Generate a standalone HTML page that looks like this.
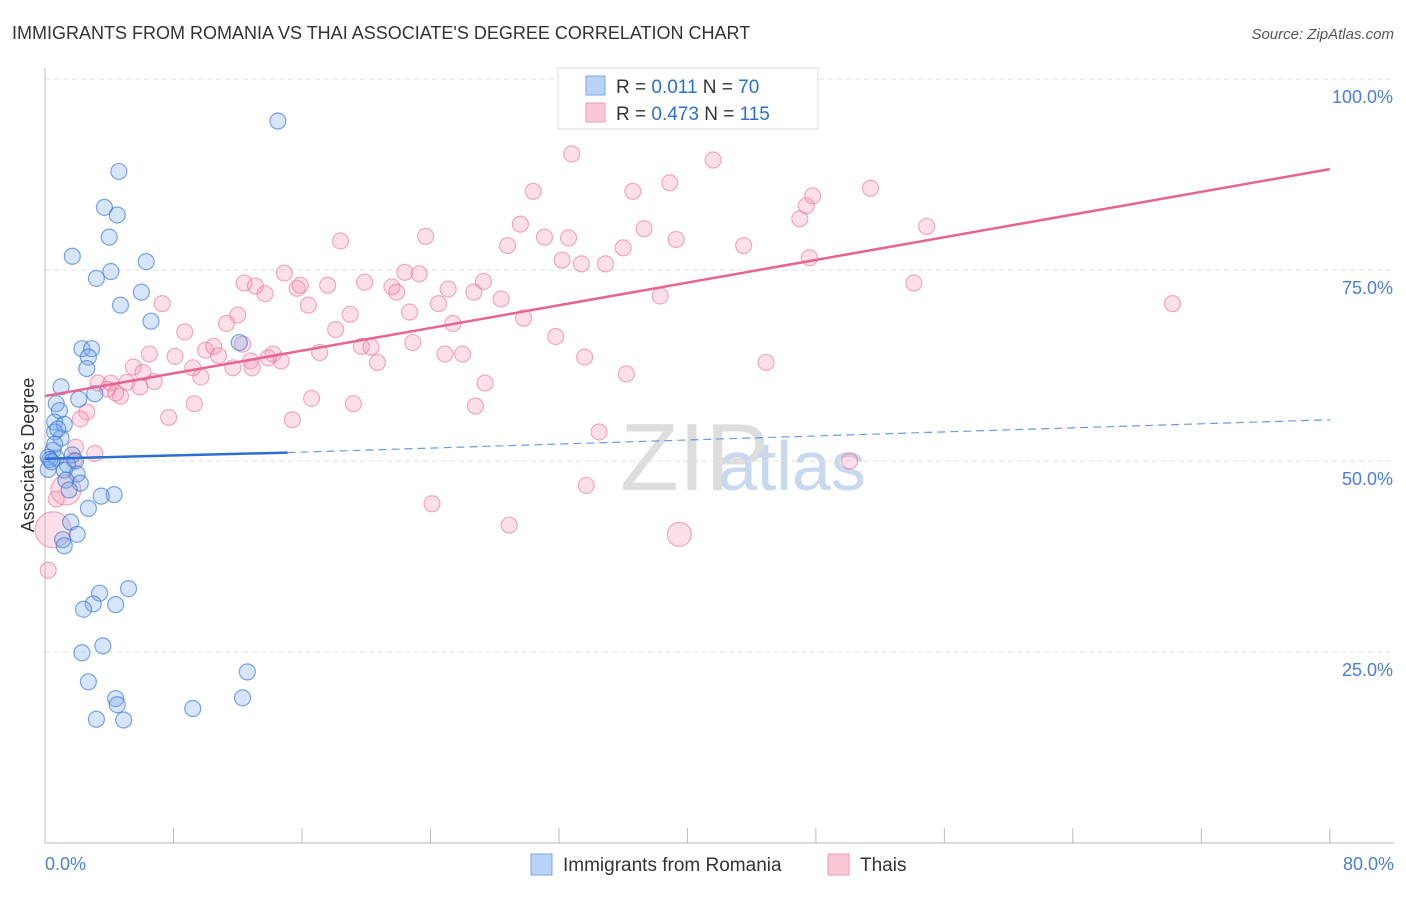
<!DOCTYPE html>
<html><head><meta charset="utf-8"><style>
body{margin:0;background:#fff;font-family:"Liberation Sans",sans-serif;}
svg text{font-family:"Liberation Sans",sans-serif;}
</style></head><body>
<svg id="c" width="1406" height="892">
<text x="12" y="39" font-size="18" fill="#333">IMMIGRANTS FROM ROMANIA VS THAI ASSOCIATE'S DEGREE CORRELATION CHART</text>
<text x="1394" y="39" font-size="15" fill="#555" font-style="italic" text-anchor="end">Source: ZipAtlas.com</text>
<text x="620" y="490" font-size="96" fill="#ddd" font-family="Liberation Serif">ZIP</text>
<text x="718" y="490" font-size="70" fill="#c8d8ef">atlas</text>
<g id="grid"></g><g id="pts"></g><g id="trend"></g>
<text transform="translate(34,455) rotate(-90)" font-size="18" fill="#333" text-anchor="middle">Associate's Degree</text>
<text x="45" y="870" font-size="18" fill="#4a7fd4">0.0%</text>
<text x="1394" y="870" font-size="18" fill="#4a7fd4" text-anchor="end">80.0%</text>
<g>
<rect x="558" y="68" width="260" height="61" fill="#fff" stroke="#ddd"/>
<rect x="586" y="76" width="19" height="19" fill="#b8d3f5" stroke="#7aa6e0"/>
<rect x="586" y="103" width="19" height="19" fill="#f9c7d6" stroke="#ee9ab4"/>
<text x="616" y="93" font-size="19" fill="#333">R = <tspan fill="#2d6fd0">0.011</tspan>   N = <tspan fill="#2d6fd0">70</tspan></text>
<text x="616" y="120" font-size="19" fill="#333">R = <tspan fill="#2d6fd0">0.473</tspan>   N = <tspan fill="#2d6fd0">115</tspan></text>
</g>
<g>
<rect x="531" y="854" width="21" height="21" fill="#b8d3f5" stroke="#7aa6e0"/>
<text x="563" y="871" font-size="19" fill="#333">Immigrants from Romania</text>
<rect x="828" y="854" width="21" height="21" fill="#f9c7d6" stroke="#ee9ab4"/>
<text x="860" y="871" font-size="19" fill="#333">Thais</text>
</g>
</svg>
<script>
const yTicks=[25,50,75,100];
const yTickLabels=["25.0%","50.0%","75.0%","100.0%"];
const xTicks=[0,8,16,24,32,40,48,56,64,72,80];
const blueX=[14.5,4.6,3.7,4.5,4.0,1.7,6.3,4.1,3.2,6.0,4.7,6.6,12.1,2.3,2.9,2.7,2.6,1.0,2.1,3.1,0.7,0.9,0.6,1.2,0.6,1.0,0.5,0.2,0.7,1.7,1.9,1.4,1.2,2.0,1.3,2.2,1.5,4.3,3.5,2.7,1.6,2.0,1.1,1.2,5.2,3.4,3.0,4.4,2.4,3.6,2.3,2.7,12.6,4.4,4.5,12.3,9.2,3.2,4.9,0.2,0.3,0.6,0.8,0.4];
const blueY=[94.5,87.9,83.2,82.2,79.3,76.8,76.1,74.8,73.9,72.1,70.4,68.3,65.5,64.7,64.7,63.6,62.1,59.7,58.1,58.8,57.5,56.6,55.1,54.8,53.8,53.0,51.4,50.5,50.4,50.8,50.0,49.5,48.8,48.3,47.5,47.1,46.2,45.6,45.4,43.8,42.0,40.4,39.7,38.9,33.3,32.7,31.3,31.2,30.6,25.8,24.9,21.1,22.4,18.9,18.1,19.0,17.6,16.2,16.1,48.9,50.2,52.2,54.2,49.9];
const pinkX=[32.8,41.6,38.9,30.4,36.6,47.8,51.4,47.4,47.0,29.6,54.9,37.3,18.4,23.7,31.1,32.6,39.3,28.8,43.5,36.0,32.2,33.4,34.9,47.6,14.9,22.4,23.3,12.4,13.1,19.9,27.3,13.7,15.7,15.9,17.6,21.6,21.9,25.1,26.7,28.4,54.1,38.3,70.2,7.3,16.4,24.5,12.0,19.0,22.7,25.4,29.8,8.7,18.1,11.3,31.8,19.7,22.9,33.6,17.1,6.5,8.1,10.0,12.3,10.5,10.8,20.3,24.9,26.0,9.2,14.2,14.7,13.9,12.8,20.7,5.5,6.8,6.1,9.7,11.7,12.9,5.1,3.3,4.1,3.9,4.7,5.9,4.4,36.2,44.9,27.4,9.3,16.6,7.7,2.6,2.2,15.4,19.2,26.8,34.5,3.1,1.9,1.8,50.1,33.7,1.3,0.7,24.1,28.9,39.5,0.5,0.2,36.9];
const pinkY=[90.2,89.4,86.4,85.3,85.3,84.7,85.7,83.4,81.7,81.0,80.7,80.4,78.8,79.4,79.3,79.2,79.0,78.2,78.2,77.9,76.3,75.8,75.8,76.6,74.6,74.7,74.5,73.3,72.9,73.4,73.5,71.9,72.6,73.0,73.0,72.8,72.1,72.5,72.1,71.2,73.3,71.6,70.6,70.6,70.4,70.6,69.1,69.2,69.5,68.0,68.7,66.9,67.2,68.0,66.3,65.0,65.5,63.6,64.2,64.0,63.7,64.5,65.3,65.0,63.8,64.9,64.0,64.0,62.2,64.0,63.1,63.5,63.1,62.9,62.3,60.4,61.6,61.0,62.2,62.2,60.3,60.2,60.2,59.4,58.5,59.7,58.9,61.4,62.9,60.2,57.5,58.2,55.7,56.4,55.5,55.4,57.5,57.2,53.8,51.0,51.8,50.1,50.0,46.8,46.2,45.0,44.4,41.6,40.4,41.0,35.7,33.8];
const pinkR=[8,8,8,8,8,8,8,8,8,8,8,8,8,8,8,8,8,8,8,8,8,8,8,8,8,8,8,8,8,8,8,8,8,8,8,8,8,8,8,8,8,8,8,8,8,8,8,8,8,8,8,8,8,8,8,8,8,8,8,8,8,8,8,8,8,8,8,8,8,8,8,8,8,8,8,8,8,8,8,8,8,8,8,8,8,8,8,8,8,8,8,8,8,8,8,8,8,8,8,8,8,8,8,8,15,8,8,8,12,18,8];
const blueTrend=[[0,50.3],[15.1,51.1],[80,55.4]];
const pinkTrend=[[0,58.5],[80,88.2]];
const X=v=>45+v*16.06, Y=v=>843-v*7.64;
const NS="http://www.w3.org/2000/svg";
function mk(tag,attrs,parent){const e=document.createElementNS(NS,tag);for(const k in attrs)e.setAttribute(k,attrs[k]);parent.appendChild(e);return e;}
const g=document.getElementById('grid');
yTicks.forEach((t,i)=>{
 const l=mk('line',{x1:45,x2:1394,y1:Y(t),y2:Y(t),stroke:'#e2e2e2','stroke-dasharray':'5,4'},g);
 
 
 const tx=mk('text',{x:1393,y:Y(t)+24,'font-size':18,fill:'#4a7fd4','text-anchor':'end'},g);
 tx.textContent=yTickLabels[i];
 
 
});
const ax=mk('line',{x1:45,x2:45,y1:68,y2:843,stroke:'#bbb'},g);


const bx=mk('line',{x1:45,x2:1394,y1:843,y2:843,stroke:'#bbb'},g);


xTicks.forEach(t=>{
 const l=mk('line',{x1:X(t),x2:X(t),y1:828,y2:843,stroke:'#bbb'},g);
 
 
});
const p=document.getElementById('pts');
pinkX.forEach((v,i)=>{
 const c=mk('circle',{cx:X(v),cy:Y(pinkY[i]),r:pinkR[i],fill:'rgba(244,150,178,0.3)',stroke:'rgba(232,120,155,0.6)','stroke-width':1.2},p);
 
 
});
blueX.forEach((v,i)=>{
 const c=mk('circle',{cx:X(v),cy:Y(blueY[i]),r:8,fill:'rgba(120,170,235,0.3)',stroke:'rgba(60,120,210,0.65)','stroke-width':1.2},p);
 
 
});
const tr=document.getElementById('trend');
let l1=mk('line',{x1:X(blueTrend[0][0]),y1:Y(blueTrend[0][1]),x2:X(blueTrend[1][0]),y2:Y(blueTrend[1][1]),stroke:'#2d6fd0','stroke-width':2.5},tr);


let l2=mk('line',{x1:X(blueTrend[1][0]),y1:Y(blueTrend[1][1]),x2:X(blueTrend[2][0]),y2:Y(blueTrend[2][1]),stroke:'#6b9be0','stroke-width':1.2,'stroke-dasharray':'8,5'},tr);


let l3=mk('line',{x1:X(pinkTrend[0][0]),y1:Y(pinkTrend[0][1]),x2:X(pinkTrend[1][0]),y2:Y(pinkTrend[1][1]),stroke:'#e8638f','stroke-width':2.5},tr);


</script>
</body></html>
